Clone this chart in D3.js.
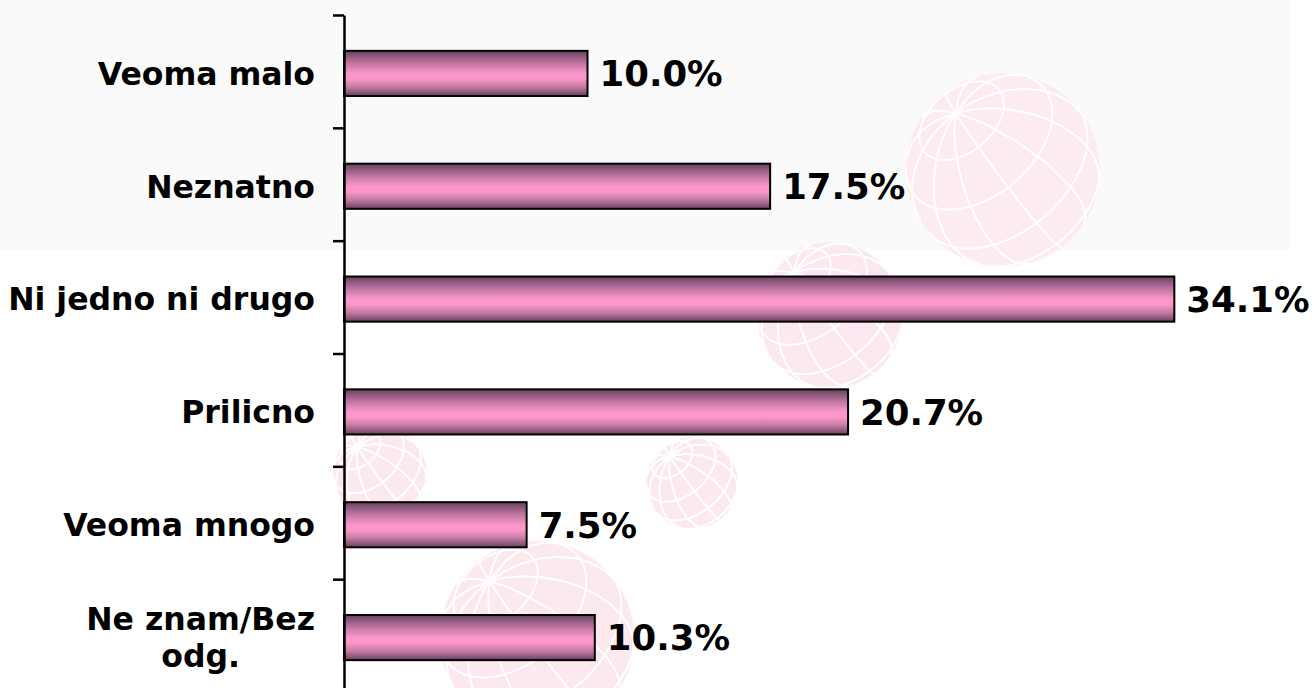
<!DOCTYPE html>
<html>
<head>
<meta charset="utf-8">
<script src="https://cdn.jsdelivr.net/npm/d3@7"></script>
<style>
html,body{margin:0;padding:0;background:#fff;}
svg{display:block;}
text{font-family:"DejaVu Sans",Verdana,sans-serif;font-weight:bold;fill:#000;}
</style>
</head>
<body>
<svg id="chart" width="1316" height="688"></svg>
<script>
const categories = ["Veoma malo", "Neznatno", "Ni jedno ni drugo", "Prilicno", "Veoma mnogo", "Ne znam/Bez odg."];
const categoryLines = [["Veoma malo"], ["Neznatno"], ["Ni jedno ni drugo"], ["Prilicno"], ["Veoma mnogo"], ["Ne znam/Bez", "odg."]];
const values = [10.0, 17.5, 34.1, 20.7, 7.5, 10.3];
const valueLabels = ["10.0%", "17.5%", "34.1%", "20.7%", "7.5%", "10.3%"];
const tickIndex = [0, 1, 2, 3, 4, 5, 6];

// decorative watermark globes: [cx, cy, r, tint]
const globes = [[1003, 170, 97, "#fcebf2"], [830, 315, 73, "#fce8f0"], [692, 483, 46, "#fce9f0"], [380, 474, 47, "#fce9f0"], [537, 638, 97, "#fce8ef"]];

const W = 1316, H = 688;
const svg = d3.select("#chart");
const defs = svg.append("defs");

const grad = defs.append("linearGradient").attr("id", "barGrad")
  .attr("x1", 0).attr("y1", 0).attr("x2", 0).attr("y2", 1);
[[0, "#6a3f5c"], [0.12, "#8d5a7c"], [0.3, "#c97aa8"], [0.5, "#fb97c9"], [0.62, "#fb97c9"], [0.8, "#c47aa4"], [0.93, "#875676"], [1, "#6a3f5c"]]
  .forEach(s => grad.append("stop").attr("offset", s[0]).attr("stop-color", s[1]));

// background panel
svg.append("rect").attr("x", 0).attr("y", 0).attr("width", W).attr("height", H).attr("fill", "#ffffff");
svg.append("rect").attr("x", 0).attr("y", 0).attr("width", 1290).attr("height", 250).attr("fill", "#fafafa");

// globes
const grat = d3.geoGraticule().step([30, 30])();
globes.forEach(([cx, cy, r, tint]) => {
  const proj = d3.geoOrthographic().rotate([25, -40, 40]).translate([cx, cy]).scale(r).clipAngle(90);
  const path = d3.geoPath(proj);
  svg.append("circle").attr("cx", cx).attr("cy", cy).attr("r", r).attr("fill", tint);
  svg.append("path").datum(grat).attr("d", path).attr("fill", "none").attr("stroke", "#ffffff").attr("stroke-width", 2);
});

const axisX = 344, plotTop = 15, plotBottom = 692;
const x = d3.scaleLinear().domain([0, 40]).range([axisX, axisX + 974]);
const y = d3.scaleBand().domain(categories).range([plotTop, plotBottom]).paddingInner(0.6).paddingOuter(0.3);
const yTicks = d3.scaleLinear().domain([0, 6]).range([plotTop, plotBottom]);

// bars
svg.append("g").selectAll("rect").data(values).join("rect")
  .attr("x", x(0))
  .attr("y", (d, i) => y(categories[i]) + 2)
  .attr("width", d => x(d) - x(0))
  .attr("height", y.bandwidth())
  .attr("fill", "url(#barGrad)")
  .attr("stroke", "#000").attr("stroke-width", 2);

// axis
const axis = d3.axisLeft(yTicks).tickValues(tickIndex).tickFormat("").tickSize(11).tickSizeOuter(0);
const ag = svg.append("g").attr("transform", `translate(${axisX},0)`).call(axis);
ag.selectAll("path,line").attr("stroke", "#000").attr("stroke-width", 2.5);

// category labels
const labG = svg.append("g");
categoryLines.forEach((lines, i) => {
  const cy = y(categories[i]) + 2 + y.bandwidth() / 2;
  const lh = 37;
  const t = labG.append("text").attr("font-size", 31.5).attr("text-anchor", "middle");
  lines.forEach((ln, k) => {
    t.append("tspan").text(ln).attr("x", 0).attr("y", cy + (k - (lines.length - 1) / 2) * lh).attr("dy", "0.36em");
  });
  const bb = t.node().getBBox();
  t.selectAll("tspan").attr("x", 315 - bb.width / 2);
});

// value labels
svg.append("g").selectAll("text").data(values).join("text")
  .attr("x", d => x(d) + 12)
  .attr("y", (d, i) => y(categories[i]) + 2 + y.bandwidth() / 2)
  .attr("dy", "0.36em")
  .attr("font-size", 35.5)
  .text((d, i) => valueLabels[i]);
</script>
</body>
</html>
